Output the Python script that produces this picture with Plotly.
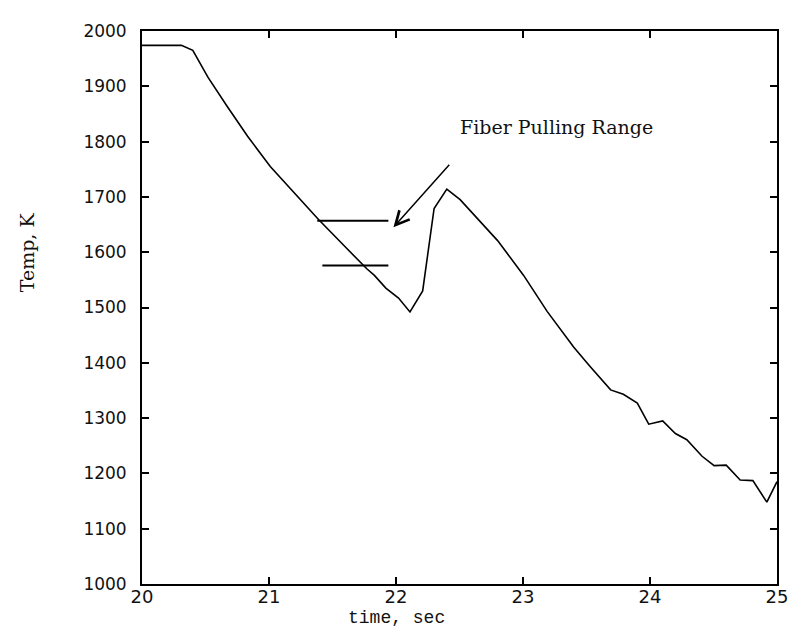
import plotly.graph_objects as go

# Data
time_s = [20.0, 20.31, 20.40, 20.52, 20.67, 20.83, 21.01, 21.22, 21.39, 21.59, 21.77,
          21.83, 21.92, 22.02, 22.11, 22.21, 22.30, 22.40, 22.505, 22.80, 23.005, 23.19,
          23.40, 23.53, 23.69, 23.79, 23.90, 23.99, 24.10, 24.20, 24.29, 24.41, 24.505,
          24.60, 24.71, 24.81, 24.92, 25.0]
temp_k = [1974, 1974, 1965, 1916, 1864, 1810, 1755, 1701, 1659, 1612, 1570,
          1558, 1535, 1517, 1492, 1530, 1679, 1714, 1695, 1621, 1558, 1493,
          1428, 1393, 1351, 1343, 1327, 1289, 1295, 1272, 1261, 1231, 1214,
          1215, 1188, 1187, 1148, 1185]

# Fiber pulling range markers
range_upper_t = [21.38, 21.94]
range_upper_T = [1657, 1657]
range_lower_t = [21.42, 21.94]
range_lower_T = [1576, 1576]

x_ticks = [20, 21, 22, 23, 24, 25]
y_ticks = [1000, 1100, 1200, 1300, 1400, 1500, 1600, 1700, 1800, 1900, 2000]

annot_text = "Fiber Pulling Range"
annot_pos = (23.26, 1826)
arrow_tip = (21.98, 1645)
arrow_tail = (22.43, 1761)

fig = go.Figure()
fig.add_trace(go.Scatter(x=time_s, y=temp_k, mode="lines",
                         line=dict(color="black", width=1.6), showlegend=False))
fig.add_trace(go.Scatter(x=range_upper_t, y=range_upper_T, mode="lines",
                         line=dict(color="black", width=2), showlegend=False))
fig.add_trace(go.Scatter(x=range_lower_t, y=range_lower_T, mode="lines",
                         line=dict(color="black", width=2), showlegend=False))

fig.add_annotation(x=annot_pos[0], y=annot_pos[1], text=annot_text, showarrow=False,
                   xanchor="center", yanchor="middle",
                   font=dict(family="DejaVu Serif", size=19, color="#111"))
fig.add_annotation(x=arrow_tip[0], y=arrow_tip[1], ax=arrow_tail[0], ay=arrow_tail[1],
                   xref="x", yref="y", axref="x", ayref="y", text="",
                   showarrow=True, arrowhead=5, arrowsize=1.8, arrowwidth=1.5,
                   arrowcolor="black", standoff=0, startstandoff=0)

# Axis titles
fig.add_annotation(x=-0.181, y=0.60, xref="paper", yref="paper", text="Temp, K",
                   textangle=-90, showarrow=False, xanchor="center", yanchor="middle",
                   font=dict(family="DejaVu Serif", size=19, color="#111"))
fig.add_annotation(x=22, y=-0.061, xref="x", yref="paper", text="time, sec",
                   showarrow=False, xanchor="center", yanchor="middle",
                   font=dict(family="Liberation Mono", size=18, color="#111"))

axis_common = dict(showgrid=False, zeroline=False, showline=True, linecolor="black",
                   linewidth=1.8, mirror="ticks", ticks="inside", ticklen=7,
                   tickwidth=1.5, tickcolor="black")

fig.update_xaxes(range=[20, 25], tickvals=x_ticks, ticktext=[str(v) for v in x_ticks],
                 tickfont=dict(family="DejaVu Sans", size=18, color="#111"),
                 ticklabelstandoff=-5, **axis_common)
fig.update_yaxes(range=[1000, 2000], tickvals=y_ticks, ticktext=[str(v) for v in y_ticks],
                 tickfont=dict(family="DejaVu Sans", size=17, color="#111"),
                 ticklabelstandoff=10, **axis_common)

fig.update_layout(width=799, height=628, margin=dict(l=142, r=11, t=31, b=44),
                  plot_bgcolor="white", paper_bgcolor="white")

fig.write_html("out.html")
